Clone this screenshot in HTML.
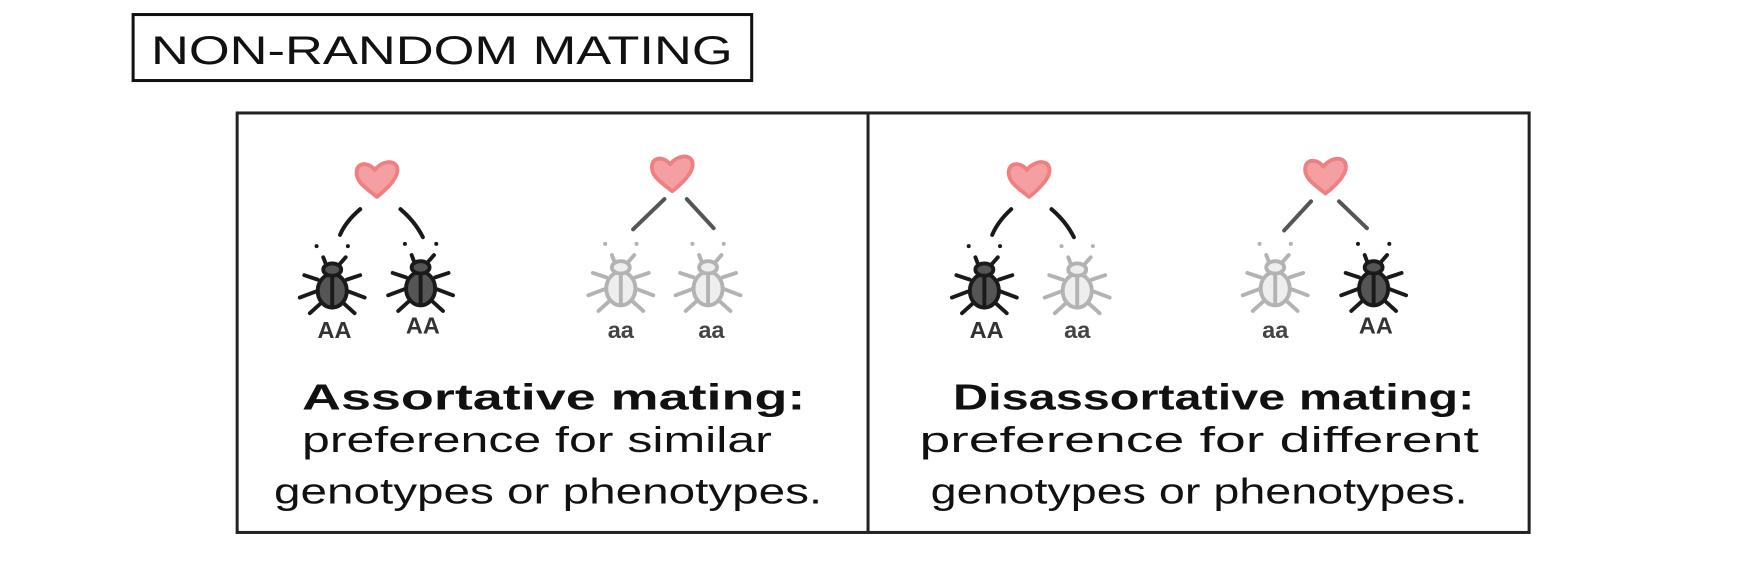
<!DOCTYPE html>
<html><head><style>
body{margin:0;background:#fff;width:1753px;height:578px;overflow:hidden}
svg{display:block}
text{font-family:"Liberation Sans",sans-serif}
</style></head><body>
<svg width="1753" height="578" viewBox="0 0 1753 578">
<defs>
<g id="bd" stroke-linecap="round" stroke-width="3.5" stroke="#1a1a1a">
 <path d="M-13,-8 L-25,-12 M-13,2 L-29,8 M-9,12 L-20,22 M13,-8 L25,-12 M13,2 L29,8 M9,12 L20,22 M-5,-20 L-8,-28 M5,-20 L12,-28" fill="none"/>
 <ellipse cx="0" cy="2" rx="13" ry="15" fill="#555"/>
 <ellipse cx="0" cy="-17" rx="8" ry="5.5" fill="#555"/>
 <line x1="0" y1="-10" x2="0" y2="15"/>
 <circle cx="-14" cy="-38" r="1.8" fill="#1a1a1a" stroke="none"/>
 <circle cx="14" cy="-38" r="1.8" fill="#1a1a1a" stroke="none"/>
</g>
<g id="bl" stroke-linecap="round" stroke-width="3.5" stroke="#b3b3b3">
 <path d="M-13,-8 L-25,-12 M-13,2 L-29,8 M-9,12 L-20,22 M13,-8 L25,-12 M13,2 L29,8 M9,12 L20,22 M-5,-20 L-8,-28 M5,-20 L12,-28" fill="none"/>
 <ellipse cx="0" cy="2" rx="13" ry="15" fill="#eee"/>
 <ellipse cx="0" cy="-17" rx="8" ry="5.5" fill="#eee"/>
 <line x1="0" y1="-10" x2="0" y2="15"/>
 <circle cx="-14" cy="-38" r="1.8" fill="#b3b3b3" stroke="none"/>
 <circle cx="14" cy="-38" r="1.8" fill="#b3b3b3" stroke="none"/>
</g>
<path id="ht" d="M0,16 C-10,8 -20,2 -18,-8 C-16,-16 -6,-14 -2,-8 C4,-16 16,-18 18,-10 C20,-2 10,8 0,16 Z" fill="#f4a0a2" stroke="#f07f82" stroke-width="3.5" stroke-linejoin="round"/>
</defs>
<g transform="scale(1.1186)">
<rect x="119" y="13" width="553" height="59" fill="none" stroke="#111" stroke-width="2.7"/>
<text x="395" y="57" font-size="36" text-anchor="middle" fill="#111" textLength="520" lengthAdjust="spacingAndGlyphs">NON-RANDOM MATING</text>
<rect x="212" y="101" width="1155" height="375" fill="none" stroke="#222" stroke-width="2.7"/>
<line x1="776" y1="101" x2="776" y2="476" stroke="#222" stroke-width="2.7"/>
<g stroke-linecap="round" stroke-width="3.6" fill="none">
<path d="M322,187 Q309,198 304,210 M358,187 Q371,198 378,212" stroke="#1a1a1a"/>
<path d="M594,178 L566,205 M614,178 L638,204" stroke="#555"/>
<path d="M904,187 Q892,198 887,210 M940,187 Q953,198 960,212" stroke="#1a1a1a"/>
<path d="M1172,180 L1148,206 M1197,180 L1222,204" stroke="#555"/>
</g>
<use href="#ht" x="337" y="160"/>
<use href="#ht" x="601" y="155"/>
<use href="#ht" x="920" y="160"/>
<use href="#ht" x="1185" y="157"/>
<use href="#bd" x="297" y="258"/>
<use href="#bd" x="376" y="256"/>
<use href="#bl" x="555" y="256"/>
<use href="#bl" x="633" y="256"/>
<use href="#bd" x="880" y="258"/>
<use href="#bl" x="963" y="258"/>
<use href="#bl" x="1140" y="256"/>
<use href="#bd" x="1228" y="256"/>
<g font-size="21" text-anchor="middle" fill="#333" font-weight="bold">
<text x="299" y="302">AA</text><text x="378" y="298">AA</text>
<text x="555" y="302" fill="#444">aa</text><text x="636" y="302" fill="#444">aa</text>
<text x="882" y="302">AA</text><text x="963" y="302" fill="#444">aa</text>
<text x="1140" y="302" fill="#444">aa</text><text x="1230" y="298">AA</text>
</g>
<g font-size="32" fill="#111">
<text x="270" y="366" font-weight="bold" textLength="450" lengthAdjust="spacingAndGlyphs">Assortative mating:</text>
<text x="270" y="404" textLength="420" lengthAdjust="spacingAndGlyphs">preference for similar</text>
<text x="245" y="450" textLength="490" lengthAdjust="spacingAndGlyphs">genotypes or phenotypes.</text>
<text x="852" y="366" font-weight="bold" textLength="466" lengthAdjust="spacingAndGlyphs">Disassortative mating:</text>
<text x="822" y="404" textLength="500" lengthAdjust="spacingAndGlyphs">preference for different</text>
<text x="832" y="450" textLength="480" lengthAdjust="spacingAndGlyphs">genotypes or phenotypes.</text>
</g>
</g>
</svg>
</body></html>
